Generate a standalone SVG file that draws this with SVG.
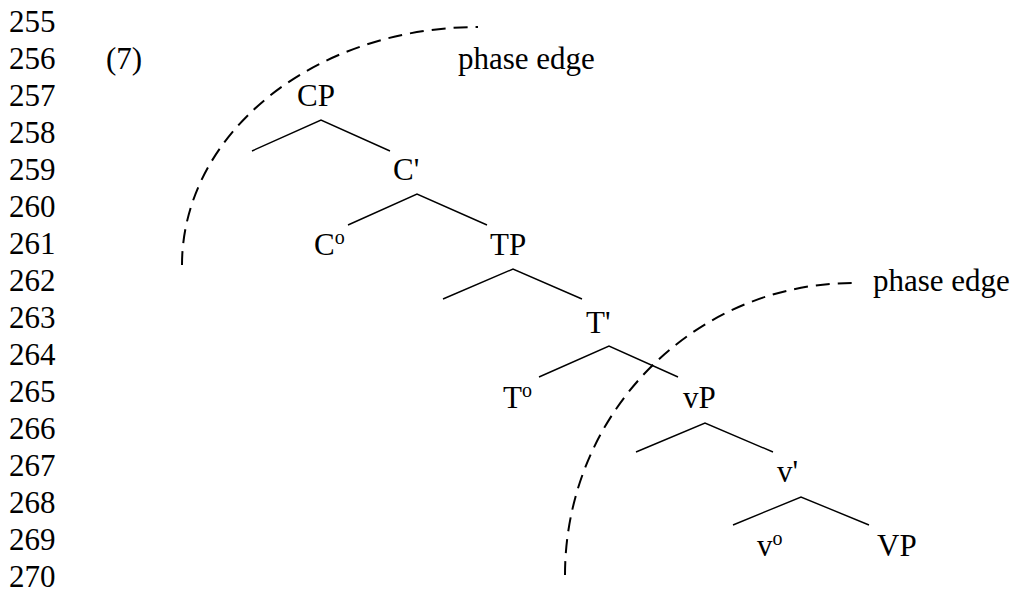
<svg xmlns="http://www.w3.org/2000/svg" width="1016" height="596" viewBox="0 0 1016 596">
<style>
text{font-family:"Liberation Serif","Times New Roman",serif;font-size:31px;fill:#000}
.sup{font-size:20px}
.edge{stroke:#000;stroke-width:1.4;fill:none}
.arc{stroke:#000;stroke-width:2;fill:none;stroke-dasharray:14 8}
</style>
<rect width="1016" height="596" fill="#fff"/>
<g id="line-numbers">
<text x="9" y="32.3">255</text>
<text x="9" y="69.2">256</text>
<text x="9" y="106.2">257</text>
<text x="9" y="143.1">258</text>
<text x="9" y="180.1">259</text>
<text x="9" y="217">260</text>
<text x="9" y="254">261</text>
<text x="9" y="291">262</text>
<text x="9" y="327.9">263</text>
<text x="9" y="364.9">264</text>
<text x="9" y="401.8">265</text>
<text x="9" y="438.8">266</text>
<text x="9" y="475.7">267</text>
<text x="9" y="512.7">268</text>
<text x="9" y="549.6">269</text>
<text x="9" y="586.6">270</text>
</g>
<g id="example-number"><text x="106" y="69">(7)</text></g>
<g id="connectors">
<polyline class="edge" points="252,151 321,120 390,151"/>
<polyline class="edge" points="348,225 417,194 487,225"/>
<polyline class="edge" points="443,299 513,269 582,299"/>
<polyline class="edge" points="539,377 609,346 678,377"/>
<polyline class="edge" points="636,452 705,423 773,452"/>
<polyline class="edge" points="733,525 801,497 869,525"/>
<path class="arc" d="M182,265 A296,238 0 0 1 478,27"/>
<path class="arc" d="M565,575 A288,292 0 0 1 853,283"/>
</g>
<g id="node-CP"><text x="297" y="106">CP</text></g>
<g id="node-Cbar"><text x="393" y="180">C'</text></g>
<g id="node-C0"><text x="314" y="255">C<tspan class="sup" dy="-11">o</tspan></text></g>
<g id="node-TP"><text x="490" y="255">TP</text></g>
<g id="node-Tbar"><text x="586" y="333">T'</text></g>
<g id="node-T0"><text x="503" y="408">T<tspan class="sup" dy="-11">o</tspan></text></g>
<g id="node-vP"><text x="683" y="408">vP</text></g>
<g id="node-vbar"><text x="777" y="482">v'</text></g>
<g id="node-v0"><text x="757" y="556">v<tspan class="sup" dy="-11">o</tspan></text></g>
<g id="node-VP"><text x="877" y="556">VP</text></g>
<g id="label-phase-edge-1"><text x="458" y="69">phase edge</text></g>
<g id="label-phase-edge-2"><text x="873" y="291">phase edge</text></g>
</svg>
